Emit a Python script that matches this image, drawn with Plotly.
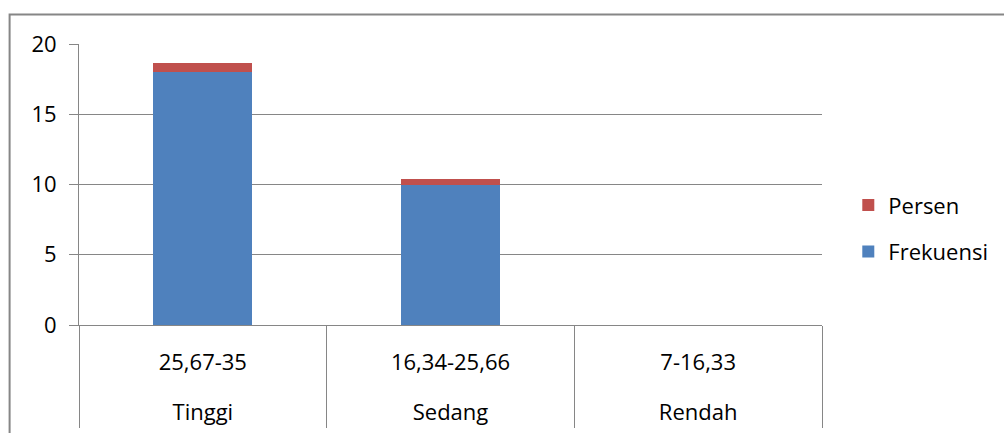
import plotly.graph_objects as go

levels = ["Tinggi", "Sedang", "Rendah"]
ranges = ["25,67-35", "16,34-25,66", "7-16,33"]
frekuensi = [18, 10, 0]
persen = [0.64, 0.36, 0]

FONT = "Open Sans"
GRID = "#868686"

fig = go.Figure()
fig.add_trace(go.Bar(x=ranges, y=frekuensi, name="Frekuensi", marker_color="#4F81BD",
                     marker_line_width=0, width=0.4, legendgroup="f", legendrank=2))
fig.add_trace(go.Bar(x=ranges, y=persen, name="Persen", marker_color="#C0504D",
                     marker_line_width=0, width=0.4, legendgroup="p", legendrank=1))
# carrier for the outer category level axis
fig.add_trace(go.Scatter(x=[0, 1, 2], y=[0, 0, 0], xaxis="x2", mode="markers",
                         marker=dict(opacity=0), showlegend=False, hoverinfo="skip"))

fig.update_layout(
    width=1004, height=433,
    margin=dict(l=79, r=181, t=44, b=108),
    barmode="stack",
    paper_bgcolor="white", plot_bgcolor="white",
    font=dict(family=FONT, size=22, color="#000000"),
    showlegend=True,
    legend=dict(traceorder="grouped", tracegroupgap=15,
                x=1.034, xanchor="left", y=0.343, yanchor="middle",
                font=dict(family=FONT, size=22), bgcolor="rgba(0,0,0,0)"),
    xaxis=dict(type="category", range=[-0.5, 2.5], showgrid=False, showline=True,
               linecolor=GRID, linewidth=1, ticks="outside", tickson="boundaries",
               ticklen=102, tickcolor=GRID, tickwidth=1, ticklabelstandoff=18,
               automargin=False, tickfont=dict(family=FONT, size=22)),
    xaxis2=dict(type="linear", overlaying="x", anchor="y", side="bottom",
                range=[-0.5, 2.5], tickmode="array", tickvals=[0, 1, 2],
                ticktext=levels, showgrid=False, showline=False, zeroline=False,
                ticks="", ticklabelstandoff=72, automargin=False,
                tickfont=dict(family=FONT, size=22)),
    yaxis=dict(range=[0, 20], tickvals=[0, 5, 10, 15, 20], showgrid=True,
               gridcolor=GRID, gridwidth=1, showline=True, linecolor=GRID,
               linewidth=1, ticks="outside", ticklen=9, tickcolor=GRID,
               ticklabelstandoff=8, zeroline=False, automargin=False,
               tickfont=dict(family=FONT, size=22)),
    shapes=[dict(type="rect", xref="paper", yref="paper",
                 x0=-0.0934, x1=1.5, y0=-0.6, y1=1.105,
                 line=dict(color=GRID, width=2), fillcolor="rgba(0,0,0,0)",
                 layer="below")],
)

fig.write_html("out.html")
